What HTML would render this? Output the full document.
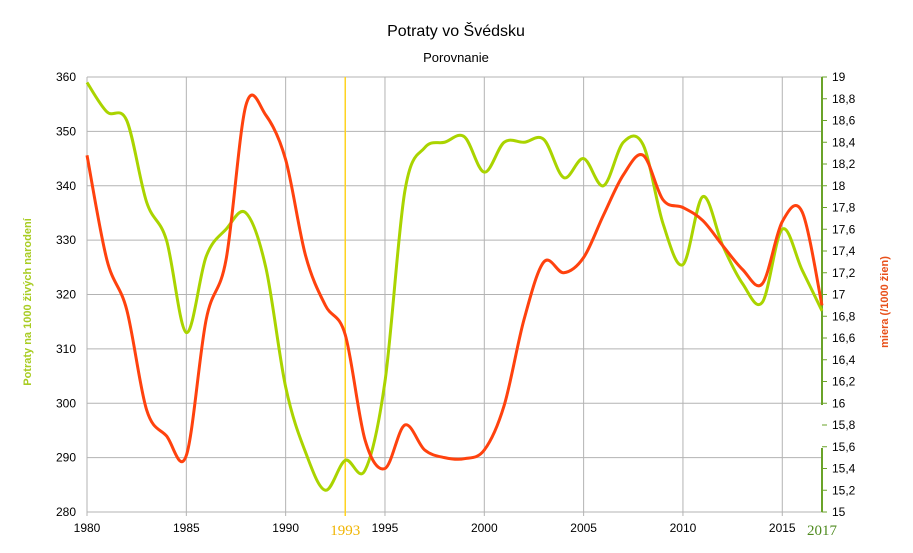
<!DOCTYPE html>
<html><head><meta charset="utf-8"><style>
body{margin:0;background:#fff;}
svg text{font-family:"Liberation Sans",sans-serif;}
</style></head><body>
<svg width="913" height="548">
<text x="456" y="36" text-anchor="middle" font-size="16">Potraty vo Švédsku</text>
<text x="456" y="62" text-anchor="middle" font-size="13">Porovnanie</text>
<g id="grid"></g>
<g id="axes"></g>
<g id="series"></g>
<text transform="translate(31,302) rotate(-90)" text-anchor="middle" font-size="11" font-weight="bold" fill="#a8cc22">Potraty na 1000 živých narodení</text>
<text transform="translate(888,302) rotate(-90)" text-anchor="middle" font-size="11" font-weight="bold" fill="#e8501a">miera (/1000 žien)</text>
</svg>
<script>
const years=[];for(let y=1980;y<=2017;y++)years.push(y);
const ratio=[359,353.6,352,337,330,313,327,332,335,325,303,291,284,289.5,287.7,304,339,347,348,349,342.5,348,348,348.5,341.5,345,340,348,347.5,333,325.5,338,329,322,318.6,332,324.5,317];
const rate=[18.28,17.32,16.86,15.94,15.7,15.52,16.77,17.32,18.74,18.65,18.24,17.36,16.9,16.63,15.66,15.4,15.8,15.57,15.5,15.49,15.57,15.98,16.77,17.3,17.2,17.34,17.73,18.1,18.28,17.87,17.8,17.68,17.45,17.23,17.1,17.67,17.76,16.9];
const xTicks=[1980,1985,1990,1995,2000,2005,2010,2015];
const leftTicks=[280,290,300,310,320,330,340,350,360];
const rightTicks=[15,15.2,15.4,15.6,15.8,16,16.2,16.4,16.6,16.8,17,17.2,17.4,17.6,17.8,18,18.2,18.4,18.6,18.8,19];
const X0=87,X1=822,Y0=77,Y1=512;
const x=v=>X0+(v-1980)*(X1-X0)/37;
const yL=v=>Y1-(v-280)*(Y1-Y0)/80;
const yR=v=>Y1-(v-15)*(Y1-Y0)/4;
const NS="http://www.w3.org/2000/svg";
function mk(t,a,p,txt){const e=document.createElementNS(NS,t);for(const k in a)e.setAttribute(k,a[k]);if(txt!==undefined)e.textContent=txt;p.appendChild(e);return e;}
const grid=document.getElementById('grid'),axes=document.getElementById('axes'),ser=document.getElementById('series');
leftTicks.forEach(v=>{const l=mk('line',{x1:X0,x2:X1,y1:yL(v),y2:yL(v),stroke:'#b3b3b3'},grid);

const t=mk('text',{x:76,y:yL(v)+4,'text-anchor':'end','font-size':12},axes,String(v));
});
xTicks.forEach(v=>{const l=mk('line',{x1:x(v),x2:x(v),y1:Y0,y2:Y1+4,stroke:'#b3b3b3'},grid);

const t=mk('text',{x:x(v),y:532,'text-anchor':'middle','font-size':12},axes,String(v));
});
rightTicks.forEach(v=>{const t=mk('text',{x:832,y:yR(v)+4,'font-size':12},axes,String(v).replace('.',','));

const k=mk('line',{x1:X1,x2:X1+5,y1:yR(v),y2:yR(v),stroke:'#6aa329'},axes);
});
const ra=mk('path',{d:`M${X1},${Y0}V405M${X1},448V${Y1}`,stroke:'#6aa329','stroke-width':2,fill:'none'},axes);

const m=mk('line',{x1:x(1993),x2:x(1993),y1:Y0,y2:Y1+4,stroke:'#ffd320','stroke-width':1.5},axes);

const m1=mk('text',{x:x(1993),y:535,'text-anchor':'middle','font-size':15,fill:'#f0b400','font-family':'Liberation Serif, serif',style:'font-family:"Liberation Serif",serif'},axes,'1993');

const m2=mk('text',{x:X1,y:535,'text-anchor':'middle','font-size':15,fill:'#4e8a1e',style:'font-family:"Liberation Serif",serif'},axes,'2017');

function smooth(pts){let d=`M${pts[0][0]},${pts[0][1]}`;for(let i=0;i<pts.length-1;i++){const p0=pts[Math.max(0,i-1)],p1=pts[i],p2=pts[i+1],p3=pts[Math.min(pts.length-1,i+2)];
d+=`C${p1[0]+(p2[0]-p0[0])/6},${p1[1]+(p2[1]-p0[1])/6} ${p2[0]-(p3[0]-p1[0])/6},${p2[1]-(p3[1]-p1[1])/6} ${p2[0]},${p2[1]}`;}return d;}
const g=mk('path',{d:smooth(years.map((y,i)=>[x(y),yL(ratio[i])])),stroke:'#aad400','stroke-width':3,fill:'none'},ser);

const r=mk('path',{d:smooth(years.map((y,i)=>[x(y),yR(rate[i])])),stroke:'#ff420e','stroke-width':3,fill:'none'},ser);

</script>
</body></html>
